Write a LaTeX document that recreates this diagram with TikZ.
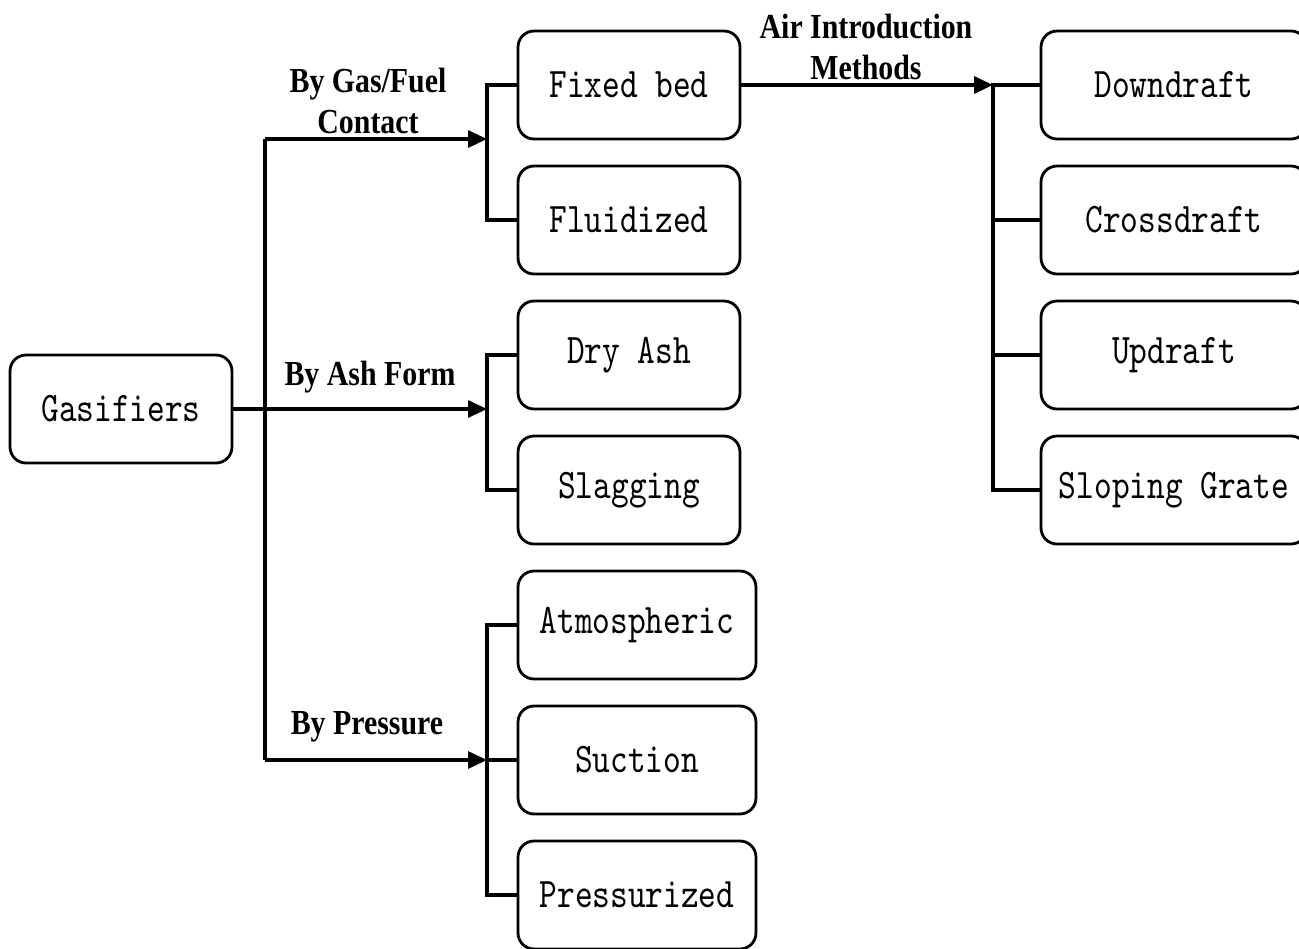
\documentclass[tikz,border=0pt]{standalone}
\usepackage{fontspec}
\usetikzlibrary{arrows.meta}
\newfontfamily\boxfont[Extension=.otf, FakeStretch=0.8]{lmmono10-regular}
\newfontfamily\labfont[FakeStretch=0.85]{Liberation Serif}
\tikzset{
  box/.style={draw, line width=1.6pt, rounded corners=0.32cm, minimum width=4.44cm,
    minimum height=2.16cm, font=\boxfont\fontsize{24}{26}\selectfont},
  wide/.style={box, minimum width=4.76cm},
  far/.style={box, minimum width=5.32cm},
  lab/.style={align=center, font=\labfont\bfseries\fontsize{20}{23.5}\selectfont},
  conn/.style={line width=1.8pt},
  arr/.style={conn, -{Triangle[length=0.38cm, width=0.34cm]}}
}
\begin{document}
\begin{tikzpicture}[x=0.02cm, y=-0.02cm]
\useasboundingbox (0,0) rectangle (1299,948);
\node[box] (gas) at (121,409) {Gasifiers};
\node[box] (fixed) at (629,85) {Fixed bed};
\node[box] (fluid) at (629,220) {Fluidized};
\node[box] (dry) at (629,355) {Dry Ash};
\node[box] (slag) at (629,490) {Slagging};
\node[wide] (atm) at (637,625) {Atmospheric};
\node[wide] (suct) at (637,760) {Suction};
\node[wide] (press) at (637,895) {Pressurized};
\node[far] (down) at (1174,85) {Downdraft};
\node[far] (cross) at (1174,220) {Crossdraft};
\node[far] (up) at (1174,355) {Updraft};
\node[far] (slope) at (1174,490) {Sloping Grate};
% junctions
\coordinate (t1) at (265,139);
\coordinate (t3) at (265,760);
\coordinate (b1) at (487,139);
\coordinate (b2) at (487,409);
\coordinate (b3) at (487,760);
\coordinate (a1) at (993,85);
\draw[conn] (t1) -- (t3);
\draw[arr] (t1) -- (b1);
\draw[arr] (gas.east) -- (b2);
\draw[arr] (t3) -- (b3);
\draw[conn] (fixed.west) -| (b1) |- (fluid.west);
\draw[conn] (dry.west) -| (b2) |- (slag.west);
\draw[conn] (atm.west) -| (b3) |- (press.west);
\draw[conn] (suct.west) -- (b3);
\draw[arr] (fixed.east) -- (a1);
\draw[conn] (down.west) -- (a1) |- (slope.west);
\draw[conn] (cross.west) -- (cross.west -| a1);
\draw[conn] (up.west) -- (up.west -| a1);
% labels
\node[lab] (l1) at (368,101) {By Gas/Fuel\\Contact};
\node[lab] (l2) at (370,377) {By Ash Form};
\node[lab] (l3) at (367,727) {By Pressure};
\node[lab] (l4) at (866,47) {Air Introduction\\Methods};
\end{tikzpicture}
\end{document}
